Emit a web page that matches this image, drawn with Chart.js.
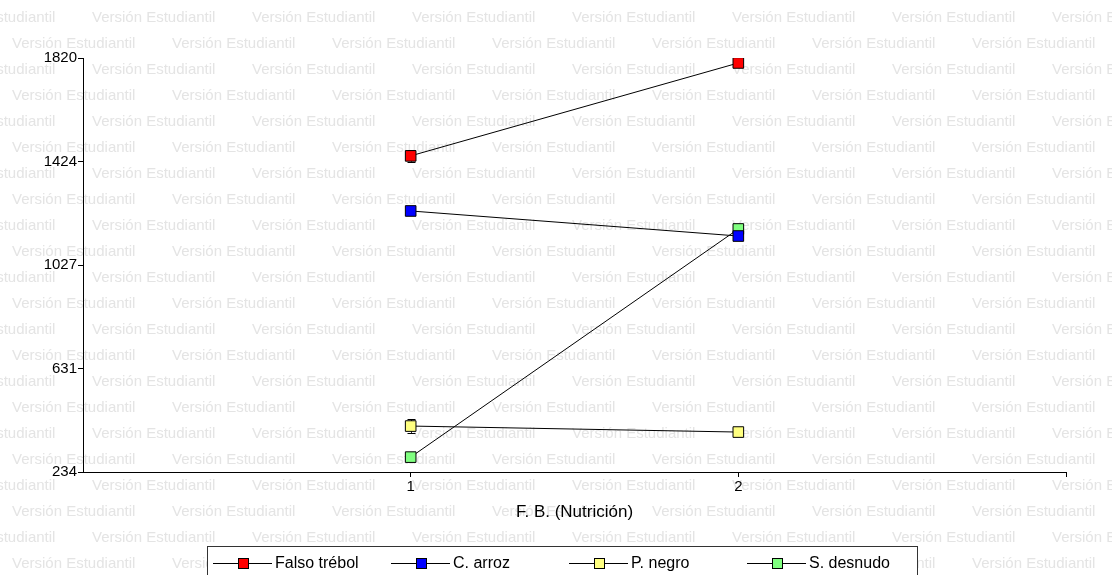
<!DOCTYPE html>
<html>
<head>
<meta charset="utf-8">
<script src="https://cdn.jsdelivr.net/npm/chart.js@4.4.1/dist/chart.umd.min.js"></script>
<style>
  html, body { margin: 0; padding: 0; background: #fff; }
  #wrap { width: 1112px; height: 575px; position: relative; }
</style>
</head>
<body>
<div id="wrap"><canvas id="grafico" width="1112" height="575"></canvas></div>
<script>
// datos
const niveles = [1, 2];
const series = ['Falso trébol', 'C. arroz', 'P. negro', 'S. desnudo'];
const falsoTrebol = [1445, 1801];
const cArroz = [1234, 1138];
const pNegro = [410, 387];
const sDesnudo = [291, 1165];
// error estandar aproximado
const errFalso = [22, 12];
const errArroz = [12, 12];
const errNegro = [26, 10];
const errDesnudo = [12, 12];
const yTicks = [234, 631, 1027, 1424, 1820];
const xTicks = [1, 2, 3];
const xEtiquetas = ['1', '2', ''];

const colores = ['#ff0000', '#0000ff', '#ffff80', '#80ff80'];
const valores = [falsoTrebol, cArroz, pNegro, sDesnudo];
const errores = [errFalso, errArroz, errNegro, errDesnudo];

const fuente = '"Liberation Sans", Arial, sans-serif';

// marca de agua de fondo
const marcaAgua = {
  id: 'marcaAgua',
  beforeDraw(chart) {
    const c = chart.ctx;
    c.save();
    c.fillStyle = '#e4e4e4';
    c.font = '15px ' + fuente;
    c.textBaseline = 'middle';
    for (let f = 0; f < 23; f++) {
      const y = 18 + f * 26;
      const x0 = (f % 2 === 0) ? -68 : 12;
      for (let x = x0; x < chart.width; x += 160) {
        c.fillText('Versión Estudiantil', x, y);
      }
    }
    c.restore();
  }
};

// barras de error
const barrasError = {
  id: 'barrasError',
  beforeDatasetsDraw(chart) {
    const c = chart.ctx;
    const xs = chart.scales.x, ys = chart.scales.y;
    c.save();
    c.strokeStyle = '#000';
    c.lineWidth = 1;
    errores.forEach((errs, i) => {
      errs.forEach((e, j) => {
        const px = Math.round(xs.getPixelForValue(niveles[j])) + 0.5;
        const top = ys.getPixelForValue(valores[i][j] + e);
        const bot = ys.getPixelForValue(valores[i][j] - e);
        c.beginPath();
        c.moveTo(px, top); c.lineTo(px, bot);
        c.moveTo(px - 4, Math.round(top) + 0.5); c.lineTo(px + 4, Math.round(top) + 0.5);
        c.moveTo(px - 4, Math.round(bot) + 0.5); c.lineTo(px + 4, Math.round(bot) + 0.5);
        c.stroke();
      });
    });
    c.restore();
  }
};

// leyenda dibujada a mano
const leyenda = {
  id: 'leyenda',
  afterDraw(chart) {
    const c = chart.ctx;
    c.save();
    c.fillStyle = '#fff';
    c.fillRect(207.5, 546.5, 710, 40);
    c.strokeStyle = '#333';
    c.lineWidth = 1;
    c.strokeRect(207.5, 546.5, 710, 40);
    c.font = '16px ' + fuente;
    c.textBaseline = 'middle';
    series.forEach((s, i) => {
      const sx = 213 + i * 178;
      const y = 563.5;
      c.strokeStyle = '#000';
      c.beginPath();
      c.moveTo(sx, y); c.lineTo(sx + 59, y);
      c.stroke();
      c.fillStyle = colores[i];
      c.fillRect(sx + 25, y - 5.5, 11, 11);
      c.strokeRect(sx + 25.5, y - 5, 10, 10);
      c.fillStyle = '#000';
      c.fillText(s, sx + 62, y);
    });
    c.restore();
  }
};

const ctx = document.getElementById('grafico').getContext('2d');

const datasets = series.map((s, i) => ({
  label: s,
  data: niveles.map((n, j) => ({ x: n, y: valores[i][j] })),
  borderColor: '#000',
  borderWidth: 1,
  pointStyle: 'rect',
  pointRadius: 7.5,
  pointHoverRadius: 7.5,
  pointBackgroundColor: colores[i],
  pointBorderColor: '#000',
  pointBorderWidth: 1,
  tension: 0
}));

new Chart(ctx, {
  type: 'line',
  data: { datasets: datasets },
  options: {
    responsive: false,
    animation: false,
    events: [],
    layout: { padding: { top: 58, right: 46, left: 0, bottom: 0 } },
    plugins: { legend: { display: false }, tooltip: { enabled: false } },
    scales: {
      x: {
        type: 'linear',
        min: 0,
        max: 3,
        afterBuildTicks: (sc) => { sc.ticks = xTicks.map(v => ({ value: v })); },
        afterFit: (sc) => { sc.height = 103; },
        ticks: {
          color: '#000',
          font: { family: fuente, size: 15 },
          padding: 1,
          maxRotation: 0,
          callback: (v, i) => xEtiquetas[i]
        },
        grid: { drawOnChartArea: false, drawTicks: true, tickLength: 5, color: '#000' },
        border: { display: true, color: '#000', width: 1 },
        title: {
          display: true,
          text: 'F. B. (Nutrición)',
          color: '#000',
          font: { family: fuente, size: 17 },
          padding: { top: 4, bottom: 52 }
        }
      },
      y: {
        min: 234,
        max: 1820,
        afterBuildTicks: (sc) => { sc.ticks = yTicks.map(v => ({ value: v })); },
        afterFit: (sc) => { sc.width = 83; },
        ticks: {
          color: '#000',
          font: { family: fuente, size: 15 },
          padding: 1,
          callback: (v) => String(v)
        },
        grid: { drawOnChartArea: false, drawTicks: true, tickLength: 5, color: '#000' },
        border: { display: true, color: '#000', width: 1 }
      }
    }
  },
  plugins: [marcaAgua, barrasError, leyenda]
});
</script>
</body>
</html>
